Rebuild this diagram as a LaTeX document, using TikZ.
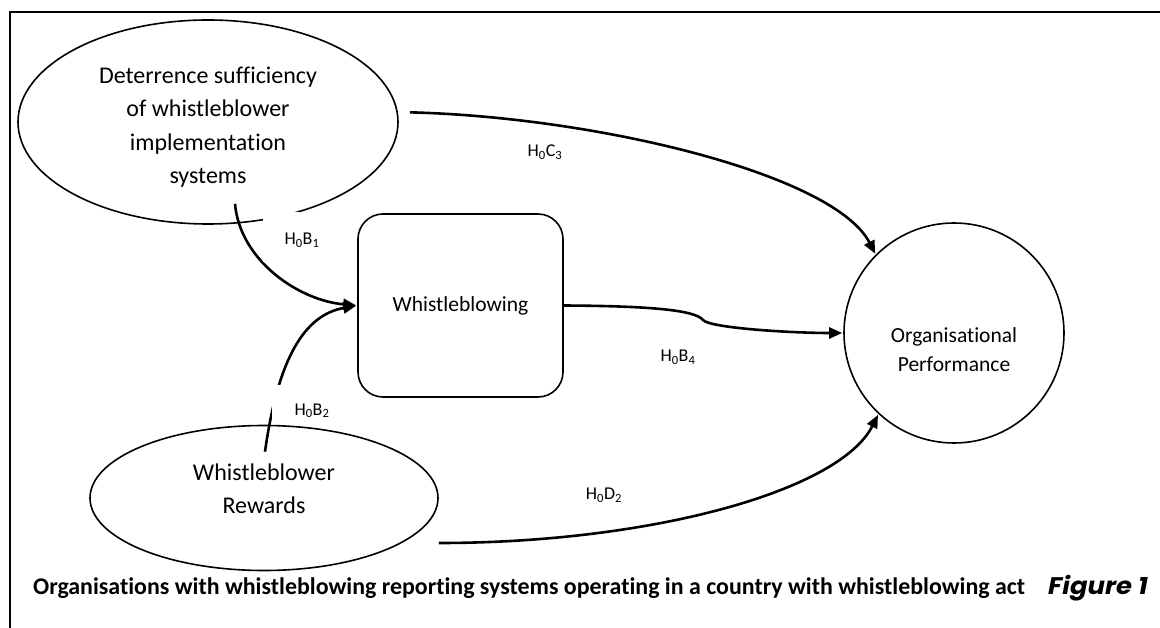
\documentclass[tikz,border=0pt]{standalone}
\usepackage{fontspec}
\setmainfont{Carlito}[Ligatures={NoCommon}]
\newfontfamily\figfont{Poppins}
\usetikzlibrary{arrows.meta,shapes.geometric,positioning}

\begin{document}
\begin{tikzpicture}[x=1pt,y=-1pt,shorten >=1pt,line width=1.6pt,
    >={Triangle[length=13pt,width=11pt]}]
  \tikzstyle{every node}=[font=\fontsize{24}{33.5}\selectfont,align=center]
  \tikzstyle{oval}=[draw,ellipse,inner sep=0pt]
  \tikzstyle{hyp}=[fill=white,inner sep=2pt,font=\fontsize{18}{18}\selectfont]
  \tikzstyle{link}=[->,line width=2.6pt]
  \useasboundingbox (0,0) rectangle (1160,628);
  \draw[line width=2.8pt] (1170,12) -- (10,12) -- (10,640);

  \node[oval,minimum width=380pt,minimum height=204pt,
    label={[yshift=-5pt]center:Deterrence sufficiency\\of whistleblower\\implementation\\systems}]
    (dsw) at (208,122) {};
  \node[draw,rounded corners=25pt,minimum width=205pt,minimum height=183pt,
    font=\fontsize{21.5}{25}\selectfont]
    (wb) at (460.5,305.5) {Whistleblowing};
  \node[oval,minimum width=348pt,minimum height=145pt,
    label={[yshift=9pt]center:Whistleblower\\Rewards}]
    (rew) at (264,498) {};
  \node[draw,circle,minimum size=220pt,inner sep=0pt,
    label={[yshift=-17pt,font=\fontsize{21.5}{29}\selectfont]center:Organisational\\Performance}]
    (op) at (954,333) {};

  \draw[link,shorten <=12pt] (dsw.3) .. controls +(200,5) and +(-41,-80) .. (op.135);
  \draw[link] ([shift={(27,-21)}]dsw.south) .. controls +(5,57) and +(-58,-5) .. (wb.west);
  \draw[link] ([shift={(1,27)}]rew.north) .. controls +(13,-93) and +(-53,9.5) .. (wb.west);
  \draw[link] (wb.east) .. controls (650,306) and (695,310) .. (703,320)
    .. controls (710,328) and (790,333) .. (op.west);
  \draw[link] ([shift={(0,45)}]rew.east) .. controls +(212,0) and +(-39,77) .. (op.227);

  \node[hyp,minimum width=78pt,text height=31pt,text depth=15pt] (h0b1) at (302,237) {H\textsubscript{0}B\textsubscript{1}};
  \node[hyp,minimum width=80pt,text height=28pt,text depth=7pt] (h0b2) at (312,404.5) {H\textsubscript{0}B\textsubscript{2}};
  \node[hyp] (h0c3) at (545,152) {H\textsubscript{0}C\textsubscript{3}};
  \node[hyp] (h0b4) at (678,357) {H\textsubscript{0}B\textsubscript{4}};
  \node[hyp] (h0d2) at (604,495) {H\textsubscript{0}D\textsubscript{2}};

  \node[anchor=west,font=\fontsize{23.9}{24}\bfseries\selectfont] (cap) at (29,588)
    {Organisations with whistleblowing reporting systems operating in a country with whistleblowing act};
  \node[anchor=east,font=\figfont\fontsize{24}{24}\bfseries\itshape\selectfont] (fig) at (1152,588)
    {\scalebox{1.08}[1]{Figure 1}};
\end{tikzpicture}
\end{document}
